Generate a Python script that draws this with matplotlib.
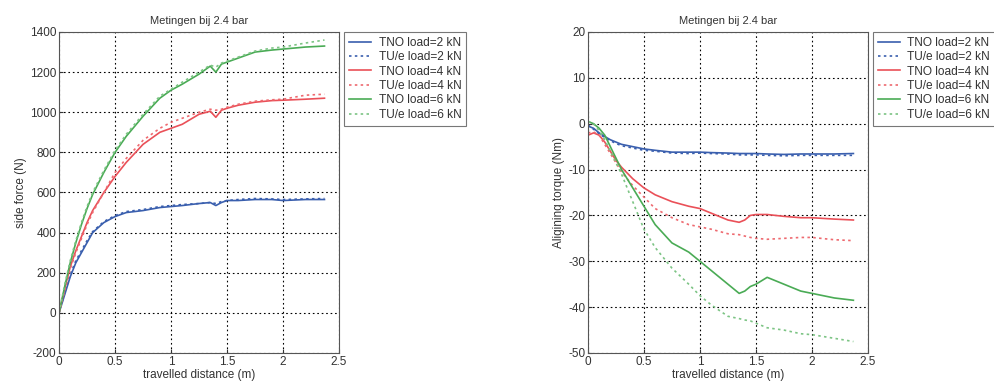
import matplotlib.pyplot as plt

# travelled distance (m), shared by all series
dist = [0, 0.05, 0.1, 0.15, 0.2, 0.25, 0.3, 0.4, 0.5, 0.6, 0.75, 0.9, 1.0, 1.1,
        1.25, 1.35, 1.4, 1.45, 1.5, 1.6, 1.75, 1.9, 2.0, 2.2, 2.37]

# side force (N)
fy_tno_2 = [0, 90, 180, 250, 300, 350, 400, 450, 480, 500, 510, 525, 530, 535,
            545, 550, 535, 550, 560, 560, 565, 565, 560, 565, 565]
fy_tue_2 = [0, 100, 190, 260, 310, 360, 405, 455, 485, 505, 515, 530, 535, 540,
            545, 550, 545, 555, 560, 565, 570, 568, 565, 568, 570]
fy_tno_4 = [0, 120, 230, 310, 380, 450, 510, 600, 680, 750, 840, 900, 920, 940,
            990, 1005, 975, 1010, 1020, 1035, 1050, 1058, 1060, 1065, 1070]
fy_tue_4 = [0, 110, 220, 300, 370, 440, 500, 600, 700, 770, 860, 920, 950, 970,
            1000, 1015, 1010, 1015, 1025, 1040, 1055, 1062, 1065, 1085, 1090]
fy_tno_6 = [0, 130, 250, 350, 440, 520, 590, 700, 800, 880, 980, 1070, 1110, 1140,
            1190, 1230, 1200, 1240, 1250, 1270, 1300, 1310, 1315, 1325, 1330]
fy_tue_6 = [0, 140, 260, 360, 450, 530, 600, 710, 810, 890, 990, 1080, 1115, 1150,
            1200, 1235, 1225, 1245, 1255, 1275, 1305, 1320, 1325, 1345, 1360]

# aligning torque (Nm)
mz_tno_2 = [-0.5, -1, -2, -2.8, -3.5, -4, -4.5, -5, -5.5, -5.8, -6.2, -6.2, -6.2, -6.3,
            -6.4, -6.5, -6.5, -6.5, -6.5, -6.6, -6.7, -6.6, -6.6, -6.6, -6.5]
mz_tue_2 = [-0.3, -1.2, -2.2, -3, -3.7, -4.3, -4.8, -5.3, -5.8, -6, -6.4, -6.5, -6.4, -6.5,
            -6.6, -6.8, -6.8, -6.8, -6.8, -6.9, -7, -6.9, -6.9, -6.9, -6.9]
mz_tno_4 = [-2.5, -2, -2.5, -4, -6, -8, -9.5, -12, -14, -15.5, -17, -18, -18.5, -19.5,
            -21, -21.5, -21, -20, -19.8, -19.8, -20.2, -20.5, -20.5, -20.8, -21]
mz_tue_4 = [-2, -1.8, -2.5, -4.5, -6.5, -8.5, -10.5, -13.5, -16, -18.5, -20.5, -22, -22.5, -23,
            -24, -24.2, -24.5, -24.8, -25, -25.2, -25, -24.8, -24.8, -25.3, -25.5]
mz_tno_6 = [0.5, 0, -1, -2.5, -5, -7.5, -10, -14, -18, -22, -26, -28, -30, -32,
            -35, -37, -36.5, -35.5, -35, -33.5, -35, -36.5, -37, -38, -38.5]
mz_tue_6 = [0.5, 0, -1.5, -3.5, -6, -8.5, -11, -17, -23, -27, -31.5, -35, -37.5, -39.5,
            -42, -42.5, -42.8, -43, -43.5, -44.5, -45, -45.8, -46, -46.8, -47.5]

labels = ['TNO load=2 kN', 'TU/e load=2 kN', 'TNO load=4 kN',
          'TU/e load=4 kN', 'TNO load=6 kN', 'TU/e load=6 kN']

blue = '#3a5fae'
red = '#ea5058'
green = '#4aab55'
dots = (0, (1.5, 2))
styles = [(blue, '-'), (blue, dots), (red, '-'), ('#ee6a70', dots),
          (green, '-'), ('#7cc484', dots)]

plt.rcParams['font.family'] = ['Liberation Sans', 'DejaVu Sans']
plt.rcParams['axes.unicode_minus'] = False

fig = plt.figure(figsize=(9.94, 3.86), dpi=100)
ax1 = fig.add_axes([0.0594, 0.0855, 0.2817, 0.8316])
ax2 = fig.add_axes([0.5915, 0.0855, 0.2817, 0.8316])


def style_axes(ax, ylim, yticks, ylabel):
    ax.set_xlim(0, 2.5)
    ax.set_ylim(*ylim)
    ax.set_xticks([0, 0.5, 1, 1.5, 2, 2.5])
    ax.set_xticklabels(['0', '0.5', '1', '1.5', '2', '2.5'])
    ax.set_yticks(yticks)
    ax.tick_params(labelsize=8.5, direction='in', length=3, colors='#333333', pad=2)
    ax.grid(True, color='black', linestyle=(0, (1.5, 2.5)), linewidth=0.8)
    for s in ax.spines.values():
        s.set_color('#555555')
        s.set_linewidth(0.8)
    ax.set_title('Metingen bij 2.4 bar', fontsize=8, color='#333333', pad=6)
    ax.set_xlabel('travelled distance (m)', fontsize=8.5, color='#333333', labelpad=1)
    ax.set_ylabel(ylabel, fontsize=8.5, color='#333333', labelpad=2)


side = [fy_tno_2, fy_tue_2, fy_tno_4, fy_tue_4, fy_tno_6, fy_tue_6]
torque = [mz_tno_2, mz_tue_2, mz_tno_4, mz_tue_4, mz_tno_6, mz_tue_6]

for ys, (c, ls), lab in zip(side, styles, labels):
    ax1.plot(dist, ys, color=c, linestyle=ls, linewidth=1.2, label=lab)
for ys, (c, ls), lab in zip(torque, styles, labels):
    ax2.plot(dist, ys, color=c, linestyle=ls, linewidth=1.2, label=lab)

style_axes(ax1, (-200, 1400), range(-200, 1401, 200), 'side force (N)')
style_axes(ax2, (-50, 20), range(-50, 21, 10), 'Aligining torque (Nm)')

for ax, xpos in [(ax1, 0.346), (ax2, 0.878)]:
    leg = ax.legend(loc='upper left', bbox_to_anchor=(xpos, 0.917),
                    bbox_transform=fig.transFigure, fontsize=8.6, frameon=True,
                    fancybox=False, edgecolor='#555555', borderaxespad=0,
                    handlelength=1.9, handletextpad=0.6, labelspacing=0.2,
                    borderpad=0.4)
    leg.get_frame().set_linewidth(0.8)
    for t in leg.get_texts():
        t.set_color('#333333')

fig.savefig('out.png', dpi=100)
